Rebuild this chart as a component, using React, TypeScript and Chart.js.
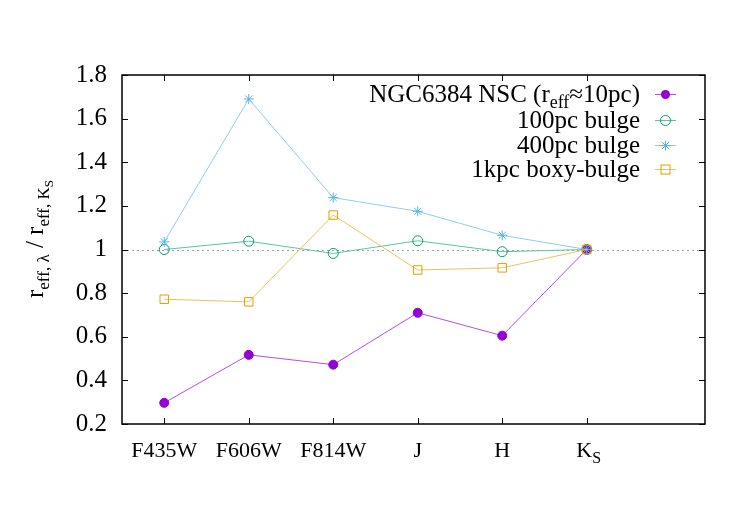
import React, { useEffect, useRef } from "react";
import { Chart, registerables } from "chart.js";

Chart.register(...registerables);

const bands = ["F435W", "F606W", "F814W", "J", "H", "K"];
const bandPos = [0, 1, 2, 3, 4, 5];
const nscValues = [0.297, 0.517, 0.472, 0.71, 0.605, 1.0];
const bulge100Values = [1.0, 1.038, 0.982, 1.04, 0.99, 1.0];
const bulge400Values = [1.035, 1.69, 1.238, 1.175, 1.065, 1.0];
const boxy1kpcValues = [0.772, 0.76, 1.158, 0.906, 0.916, 1.0];
const yTicks = [0.2, 0.4, 0.6, 0.8, 1.0, 1.2, 1.4, 1.6, 1.8];

const seriesNames = ["NGC6384 NSC", "100pc bulge", "400pc bulge", "1kpc boxy-bulge"];
const seriesColors = ["#9400d3", "#009e73", "#56b4e9", "#e69f00"];
const seriesLineColors = ["#b44ee8", "#5cc4a3", "#8fcdf0", "#f0c060"];

const FONT = "Liberation Serif";
const FS_X = 22;
const FS_Y = 25;
const FS_LEG = 25;
const FS_TITLE = 25;

type Seg = { t: string; size: number; dy: number };

function drawSegs(ctx: CanvasRenderingContext2D, segs: Seg[], x: number, y: number, align: "left" | "right" | "center") {
  let total = 0;
  const widths = segs.map((s) => {
    ctx.font = `${s.size}px "${FONT}"`;
    const w = ctx.measureText(s.t).width;
    total += w;
    return w;
  });
  let cx = align === "left" ? x : align === "right" ? x - total : x - total / 2;
  ctx.textAlign = "left";
  ctx.textBaseline = "alphabetic";
  segs.forEach((s, i) => {
    ctx.font = `${s.size}px "${FONT}"`;
    ctx.fillText(s.t, cx, y + s.dy);
    cx += widths[i];
  });
}

function drawMarker(ctx: CanvasRenderingContext2D, idx: number, x: number, y: number) {
  const c = seriesColors[idx];
  ctx.save();
  ctx.lineWidth = 1;
  ctx.strokeStyle = c;
  ctx.fillStyle = c;
  if (idx === 0) {
    ctx.beginPath();
    ctx.arc(x, y, 4.5, 0, Math.PI * 2);
    ctx.fill();
  } else if (idx === 1) {
    ctx.beginPath();
    ctx.arc(x, y, 5, 0, Math.PI * 2);
    ctx.stroke();
  } else if (idx === 2) {
    const r = 5;
    ctx.beginPath();
    ctx.moveTo(x - r, y); ctx.lineTo(x + r, y);
    ctx.moveTo(x, y - r); ctx.lineTo(x, y + r);
    ctx.moveTo(x - r * 0.72, y - r * 0.72); ctx.lineTo(x + r * 0.72, y + r * 0.72);
    ctx.moveTo(x - r * 0.72, y + r * 0.72); ctx.lineTo(x + r * 0.72, y - r * 0.72);
    ctx.stroke();
  } else {
    ctx.strokeRect(x - 4.5, y - 4.5, 9, 9);
  }
  ctx.restore();
}

const framePlugin = {
  id: "frame",
  beforeDatasetsDraw(chart: any) {
    const { ctx, chartArea: a, scales } = chart;
    const y1 = scales.y.getPixelForValue(1);
    ctx.save();
    ctx.strokeStyle = "#a0a0a0";
    ctx.lineWidth = 1;
    ctx.setLineDash([2, 3]);
    ctx.beginPath();
    ctx.moveTo(a.left, Math.round(y1) + 0.5);
    ctx.lineTo(a.right, Math.round(y1) + 0.5);
    ctx.stroke();
    ctx.restore();
  },
  afterDraw(chart: any) {
    const { ctx, chartArea: a, scales } = chart;
    ctx.save();
    ctx.strokeStyle = "#000";
    ctx.lineWidth = 1;
    const tl = 6;
    ctx.beginPath();
    bandPos.forEach((v) => {
      const x = Math.round(scales.x.getPixelForValue(v)) + 0.5;
      ctx.moveTo(x, a.bottom); ctx.lineTo(x, a.bottom - tl);
      ctx.moveTo(x, a.top); ctx.lineTo(x, a.top + tl);
    });
    yTicks.forEach((v) => {
      const y = Math.round(scales.y.getPixelForValue(v)) + 0.5;
      ctx.moveTo(a.left, y); ctx.lineTo(a.left + tl, y);
      ctx.moveTo(a.right, y); ctx.lineTo(a.right - tl, y);
    });
    ctx.stroke();
    ctx.lineWidth = 1.5;
    ctx.strokeRect(a.left, a.top, a.right - a.left, a.bottom - a.top);

    ctx.fillStyle = "#000";
    // K_S tick label
    const kx = scales.x.getPixelForValue(5);
    drawSegs(ctx, [{ t: "K", size: FS_X, dy: 0 }, { t: "S", size: 16, dy: 6 }], kx + 2, a.bottom + 33, "center");

    // Y axis title
    ctx.save();
    ctx.translate(43, 298);
    ctx.rotate(-Math.PI / 2);
    drawSegs(ctx, [
      { t: "r", size: FS_TITLE, dy: 0 },
      { t: "eff, λ", size: 17, dy: 6 },
      { t: " / r", size: FS_TITLE, dy: 0 },
      { t: "eff, K", size: 17, dy: 6 },
      { t: "S", size: 13, dy: 10 },
    ], 0, 0, "left");
    ctx.restore();

    // Legend
    const textRight = 640;
    const rows = [94, 120, 145, 169];
    rows.forEach((ry, i) => {
      ctx.fillStyle = "#000";
      if (i === 0) {
        drawSegs(ctx, [
          { t: "NGC6384 NSC (r", size: FS_LEG, dy: 0 },
          { t: "eff", size: 18, dy: 6 },
          { t: "≈10pc)", size: FS_LEG, dy: 0 },
        ], textRight, ry + 8, "right");
      } else {
        drawSegs(ctx, [{ t: seriesNames[i], size: FS_LEG, dy: 0 }], textRight, ry + 8, "right");
      }
      ctx.save();
      ctx.strokeStyle = seriesLineColors[i];
      ctx.lineWidth = 1;
      ctx.beginPath();
      ctx.moveTo(655, Math.round(ry) + 0.5);
      ctx.lineTo(676, Math.round(ry) + 0.5);
      ctx.stroke();
      ctx.restore();
      drawMarker(ctx, i, 665.5, Math.round(ry) + 0.5);
    });
    ctx.restore();
  },
};

function mkData(vals: number[]) {
  return bandPos.map((x, i) => ({ x, y: vals[i] }));
}

export default function App() {
  const ref = useRef<HTMLCanvasElement | null>(null);
  useEffect(() => {
    if (!ref.current) return;
    const allVals = [nscValues, bulge100Values, bulge400Values, boxy1kpcValues];
    const styles: any[] = ["circle", "circle", "star", "rect"];
    const chart = new Chart(ref.current, {
      type: "line",
      data: {
        datasets: allVals.map((vals, i) => ({
          label: seriesNames[i],
          data: mkData(vals),
          borderColor: seriesLineColors[i],
          borderWidth: 1,
          pointStyle: styles[i],
          pointRadius: i === 0 ? 4.5 : i === 3 ? 6 : 5,
          pointBorderWidth: 1,
          pointBorderColor: seriesColors[i],
          pointBackgroundColor: i === 0 ? seriesColors[i] : "rgba(0,0,0,0)",
          tension: 0,
          order: 4 - i,
        })),
      },
      options: {
        animation: false,
        responsive: false,
        devicePixelRatio: 1,
        layout: { padding: { top: 75, right: 45, left: 0, bottom: 0 } },
        plugins: { legend: { display: false }, tooltip: { enabled: false } },
        scales: {
          x: {
            type: "linear",
            min: -0.5,
            max: 6.4,
            grid: { display: false, drawTicks: false },
            border: { display: false },
            afterFit: (s: any) => { s.height = 101; },
            afterBuildTicks: (s: any) => { s.ticks = bandPos.map((v) => ({ value: v })); },
            ticks: {
              autoSkip: false,
              maxRotation: 0,
              padding: 14,
              color: "#000",
              font: { family: FONT, size: FS_X },
              callback: (v: any) => (v === 5 ? "" : bands[v as number] ?? ""),
            },
          },
          y: {
            min: 0.2,
            max: 1.8,
            grid: { display: false, drawTicks: false },
            border: { display: false },
            afterFit: (s: any) => { s.width = 122; },
            afterBuildTicks: (s: any) => { s.ticks = yTicks.map((v) => ({ value: v })); },
            ticks: {
              padding: 15,
              color: "#000",
              font: { family: FONT, size: FS_Y },
              callback: (v: any) => String(Number((v as number).toFixed(1))),
            },
          },
        },
      },
      plugins: [framePlugin],
    } as any);
    return () => chart.destroy();
  }, []);
  return (
    <div style={{ position: "fixed", left: 0, top: 0, width: 750, height: 525, background: "#fff" }}>
      <canvas ref={ref} width={750} height={525} style={{ width: 750, height: 525, display: "block" }} />
    </div>
  );
}
